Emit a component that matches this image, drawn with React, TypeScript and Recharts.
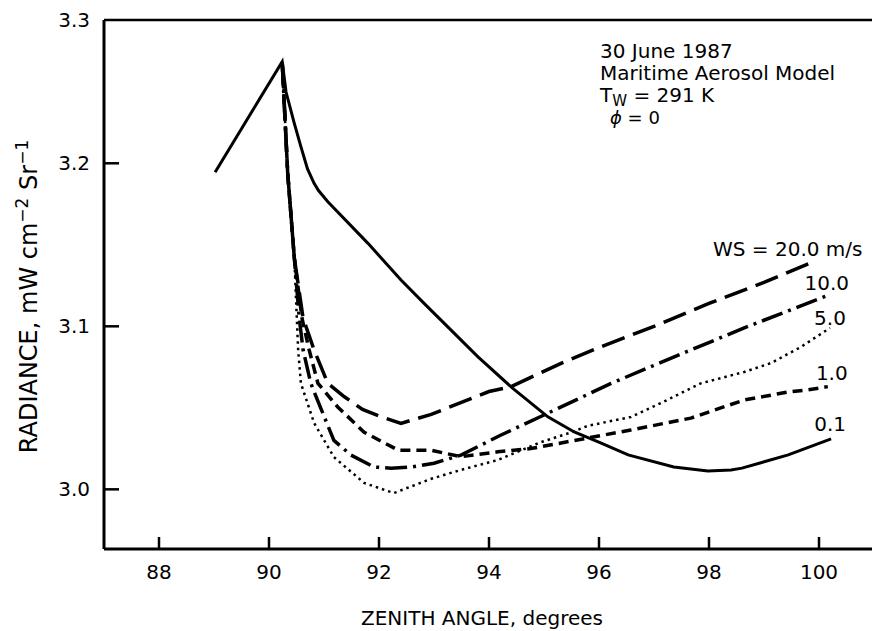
import React from "react";
import {ComposedChart, LabelList, Line, ReferenceLine, Scatter, XAxis, YAxis} from "recharts";

const FONT = "DejaVu Sans";

// zenith angle (degrees) and radiance (mW cm-2 Sr-1)
const ws01Angle = [89.02, 90.24, 90.31, 90.46, 90.58, 90.7, 90.82, 90.9, 91.07, 91.8, 92.4, 92.82, 93.31, 93.8, 94.4, 95.07, 95.55, 96.04, 96.53, 97.36, 97.98, 98.4, 98.6, 99.44, 100.22];
const ws01Radiance = [3.1945, 3.2623, 3.2437, 3.2245, 3.2102, 3.1965, 3.1877, 3.1833, 3.1764, 3.1509, 3.1284, 3.1141, 3.0977, 3.0813, 3.0629, 3.0445, 3.0352, 3.0284, 3.0211, 3.0137, 3.0112, 3.0119, 3.013, 3.0211, 3.0309];

const ws1Angle = [90.24, 90.34, 90.46, 90.6, 90.73, 90.89, 91.25, 91.73, 92.35, 92.95, 93.49, 94.16, 94.76, 95.8, 96.58, 97.67, 98.64, 99.44, 99.8, 100.16];
const ws1Radiance = [3.262, 3.194, 3.142, 3.105, 3.0855, 3.065, 3.0505, 3.035, 3.024, 3.024, 3.02, 3.023, 3.025, 3.0315, 3.0364, 3.0437, 3.0548, 3.0597, 3.061, 3.063];

const ws5Angle = [90.24, 90.34, 90.46, 90.53, 90.58, 90.82, 91.18, 91.73, 92.27, 92.95, 93.5, 94.16, 94.95, 95.5, 95.8, 96.58, 97.13, 97.85, 98.64, 99.13, 99.67, 100.2];
const ws5Radiance = [3.262, 3.194, 3.142, 3.0855, 3.065, 3.0407, 3.0198, 3.0039, 2.9977, 3.0065, 3.012, 3.018, 3.029, 3.035, 3.039, 3.0444, 3.053, 3.065, 3.072, 3.0775, 3.0873, 3.099];

const ws10Angle = [90.24, 90.34, 90.46, 90.55, 90.62, 90.76, 90.95, 91.18, 91.49, 91.91, 92.22, 92.58, 93.0, 93.49, 94.2, 95.0, 96.22, 97.67, 98.64, 100.16];
const ws10Radiance = [3.262, 3.194, 3.142, 3.105, 3.0855, 3.065, 3.049, 3.03, 3.021, 3.0137, 3.013, 3.0137, 3.016, 3.021, 3.033, 3.0456, 3.065, 3.0855, 3.099, 3.119];

const ws20Angle = [90.24, 90.34, 90.46, 90.62, 90.82, 91.07, 91.37, 91.7, 92.04, 92.4, 92.95, 94.0, 94.4, 95.31, 96.0, 97.0, 98.0, 99.0, 99.85];
const ws20Radiance = [3.262, 3.194, 3.142, 3.105, 3.0855, 3.065, 3.0568, 3.049, 3.0445, 3.0405, 3.046, 3.06, 3.063, 3.0773, 3.087, 3.1, 3.114, 3.127, 3.139];

const xTicks = [88, 90, 92, 94, 96, 98, 100];
const X_DOMAIN = [87, 101];
const Y_MIN = 2.9634;
const Y_MAX = 3.2879;
const yTicks = [3.0, 3.1, 3.2, Y_MAX];
const yMarks = [3.0, 3.1, 3.2];

const toPoints = (xs: number[], ys: number[]) => xs.map((x, i) => ({x, y: ys[i]}));

// tick marks point into the plot; drawn as scatter marks on the axis edges
const xTickMarks = xTicks.map(t => ({x: t, y: Y_MIN}));
const yTickMarks = yMarks.map(t => ({x: X_DOMAIN[0], y: t}));

const series = [
    {key: "ws01", data: toPoints(ws01Angle, ws01Radiance), dash: undefined, width: 3, label: "0.1", dx: -1, dy: -8},
    {key: "ws1", data: toPoints(ws1Angle, ws1Radiance), dash: "10 6", width: 3.5, label: "1.0", dx: 4, dy: -7},
    {key: "ws5", data: toPoints(ws5Angle, ws5Radiance), dash: "2.5 4", width: 2.5, label: "5.0", dx: 0, dy: -3},
    {key: "ws10", data: toPoints(ws10Angle, ws10Radiance), dash: "22 6 3 6", width: 3.5, label: "10.0", dx: -1, dy: -5},
    {key: "ws20", data: toPoints(ws20Angle, ws20Radiance), dash: "24 9", width: 3.5, label: "WS = 20.0 m/s", dx: -23, dy: -7},
];

const endLabel = (text: string, dx: number, dy: number, last: number) => (props: any) => {
    if (props.index !== last) return null;
    const vb = props.viewBox || {};
    const x = props.x ?? vb.x;
    const y = props.y ?? vb.y;
    return (
        <text x={x + dx} y={y + dy} textAnchor="middle" fontFamily={FONT} fontSize={20} fill="#000">
            {text}
        </text>
    );
};

const pointCenter = (p: any) => ({
    cx: p.cx ?? (p.x + (p.width || 0) / 2),
    cy: p.cy ?? (p.y + (p.height || 0) / 2),
});

const XTickMark = (props: any) => {
    const {cx, cy} = pointCenter(props);
    return <line x1={cx} x2={cx} y1={cy} y2={cy - 12} stroke="#000" strokeWidth={2.5}/>;
};

const YTickMark = (props: any) => {
    const {cx, cy} = pointCenter(props);
    return <line x1={cx} x2={cx + 15} y1={cy} y2={cy} stroke="#000" strokeWidth={2.5}/>;
};

const XTick = (props: any) => {
    const {x, y, payload} = props;
    return (
        <text x={x} y={y} dy="0.71em" textAnchor="middle" fontFamily={FONT} fontSize={20} fill="#000">
            {payload.value}
        </text>
    );
};

const YTick = (props: any) => {
    const {x, y, payload} = props;
    return (
        <text x={x} y={y} dy="0.355em" textAnchor="end" fontFamily={FONT} fontSize={20} fill="#000">
            {payload.value.toFixed(1)}
        </text>
    );
};

const renderYTitle = (props: any) => {
    const vb = props.viewBox || {x: 0, y: 20, width: 104, height: 529};
    const cx = vb.x + 37;
    const cy = vb.y + vb.height / 2 + 12;
    return (
        <text x={cx} y={cy} transform={`rotate(-90 ${cx} ${cy})`} textAnchor="middle"
              fontFamily={FONT} fontSize={24} fill="#000">
            RADIANCE, mW cm<tspan fontSize={17} dy={-9}>−2</tspan>
            <tspan dy={9}> Sr</tspan><tspan fontSize={17} dy={-9}>−1</tspan>
        </text>
    );
};

const renderXTitle = (props: any) => {
    const vb = props.viewBox || {x: 104, y: 549, width: 770, height: 60};
    return (
        <text x={vb.x + 378} y={vb.y + 76} textAnchor="middle" fontFamily={FONT} fontSize={20} fill="#000">
            ZENITH ANGLE, degrees
        </text>
    );
};

const renderNote = (props: any) => {
    const vb = props.viewBox || {};
    const x0 = (vb.x ?? 104) + 496;
    const y0 = vb.y ?? 20;
    return (
        <g fontFamily={FONT} fontSize={20} fill="#000">
            <text x={x0} y={y0 + 38}>30 June 1987</text>
            <text x={x0} y={y0 + 60}>Maritime Aerosol Model</text>
            <text x={x0} y={y0 + 82}>T<tspan fontSize={15} dy={4}>W</tspan><tspan dy={-4}> = 291 K</tspan></text>
            <text x={x0 + 10} y={y0 + 104} fontSize={18}><tspan fontStyle="italic">ϕ</tspan> = 0</text>
        </g>
    );
};

const App = () => {
    return (
        <div style={{position: "absolute", left: 0, top: 0, width: 872, height: 631, overflow: "hidden", background: "#fff"}}>
            <ComposedChart width={880} height={631} margin={{top: 20, right: 6, bottom: 22, left: 0}}>
                <XAxis type="number" dataKey="x" domain={X_DOMAIN} ticks={xTicks} interval={0}
                       height={60} tickSize={0} tickMargin={16} tickLine={false}
                       axisLine={{stroke: "#000", strokeWidth: 3}} tick={<XTick/>} label={renderXTitle}/>
                <YAxis type="number" domain={[Y_MIN, Y_MAX]} ticks={yTicks} interval={0}
                       width={104} tickSize={0} tickMargin={14} tickLine={false}
                       axisLine={{stroke: "#000", strokeWidth: 3}} tick={<YTick/>} label={renderYTitle}/>
                <ReferenceLine y={Y_MAX} stroke="#000" strokeWidth={2.5} label={renderNote}/>
                <Scatter data={xTickMarks} dataKey="y" shape={<XTickMark/>} isAnimationActive={false}/>
                <Scatter data={yTickMarks} dataKey="y" shape={<YTickMark/>} isAnimationActive={false}/>
                {series.map(s => (
                    <Line key={s.key} data={s.data} dataKey="y" type="linear" stroke="#000"
                          strokeWidth={s.width} strokeDasharray={s.dash} dot={false}
                          isAnimationActive={false}>
                        <LabelList dataKey="y" content={endLabel(s.label, s.dx, s.dy, s.data.length - 1)}/>
                    </Line>
                ))}
            </ComposedChart>
        </div>
    );
};

export default App;
